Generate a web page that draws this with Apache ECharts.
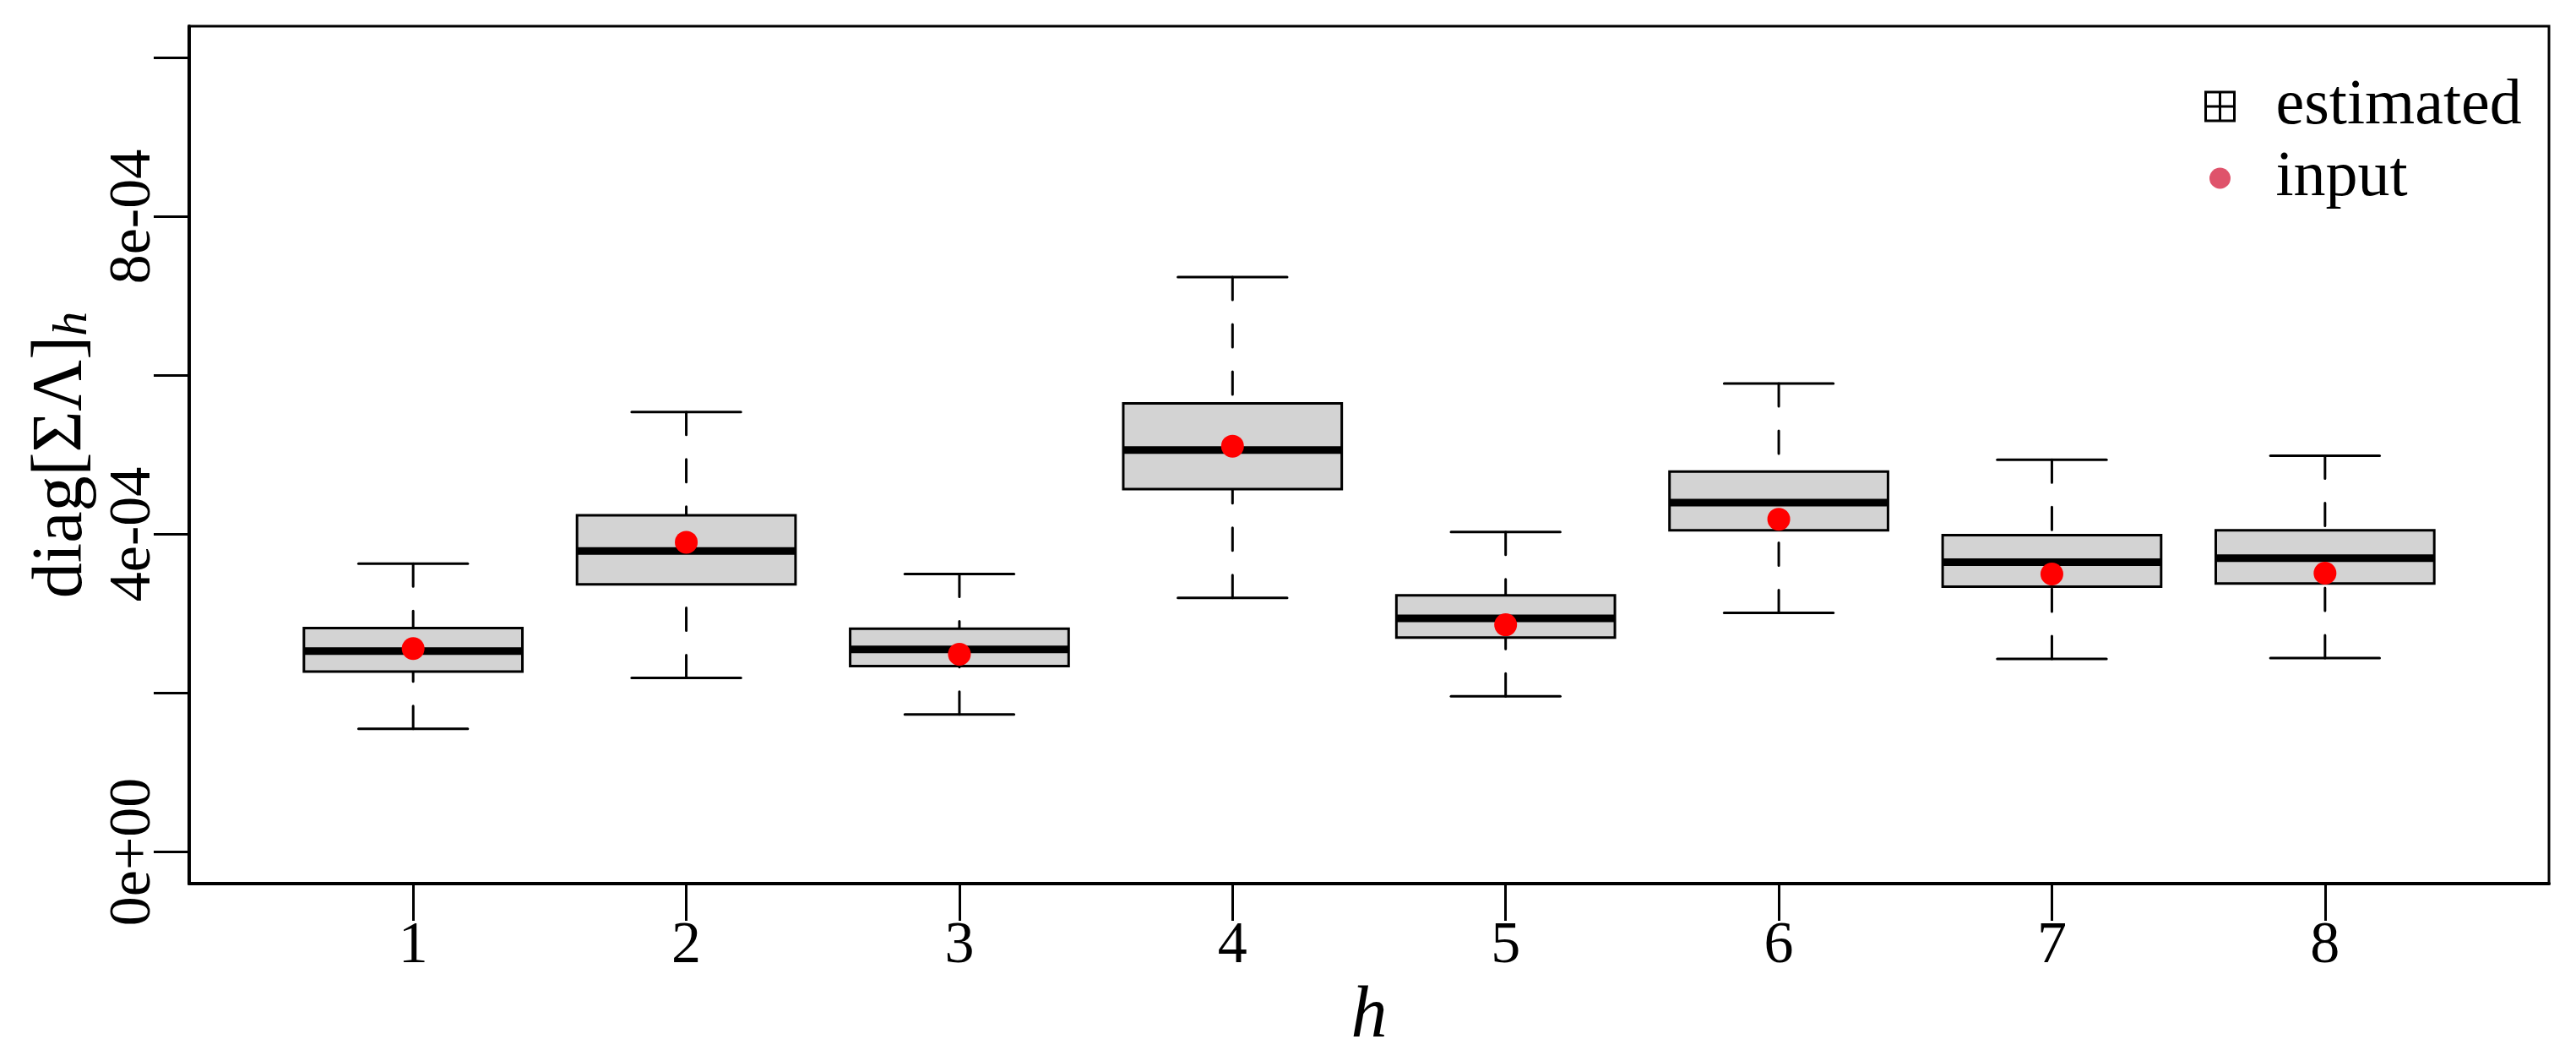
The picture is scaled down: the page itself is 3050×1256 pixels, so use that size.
<!DOCTYPE html>
<html>
<head>
<meta charset="utf-8">
<script src="https://cdn.jsdelivr.net/npm/echarts@6/dist/echarts.min.js"></script>
<style>
    html, body { margin: 0; padding: 0; background: #fff; }
    #chart { width: 3050px; height: 1256px; }
</style>
</head>
<body>
<div id="chart"></div>
<script>
    // values
    const horizons = [1, 2, 3, 4, 5, 6, 7, 8];
    const whiskerLow  = [1.55e-4, 2.19e-4, 1.73e-4, 3.20e-4, 1.96e-4, 3.01e-4, 2.43e-4, 2.44e-4];
    const quartile1   = [2.27e-4, 3.37e-4, 2.34e-4, 4.57e-4, 2.70e-4, 4.05e-4, 3.34e-4, 3.38e-4];
    const medians     = [2.53e-4, 3.79e-4, 2.55e-4, 5.06e-4, 2.94e-4, 4.40e-4, 3.65e-4, 3.70e-4];
    const quartile3   = [2.82e-4, 4.24e-4, 2.81e-4, 5.65e-4, 3.23e-4, 4.79e-4, 3.99e-4, 4.05e-4];
    const whiskerHigh = [3.63e-4, 5.54e-4, 3.50e-4, 7.24e-4, 4.03e-4, 5.90e-4, 4.94e-4, 4.99e-4];
    const inputValues = [2.56e-4, 3.90e-4, 2.49e-4, 5.11e-4, 2.86e-4, 4.19e-4, 3.50e-4, 3.51e-4];

    const yTickValues = [0, 2e-4, 4e-4, 6e-4, 8e-4, 1e-3];
    const yLabelValues = [0, 4e-4, 8e-4];
    const yLabelTexts = ['0e+00', '4e-04', '8e-04'];

    const font = 'Liberation Serif';
    const boxWidth = 0.8;     // R boxwex
    const capWidth = 0.4;     // staplewex * boxwex

    let boxData = horizons.map((h, i) => [h, whiskerLow[i], quartile1[i], medians[i], quartile3[i], whiskerHigh[i]]);
    let inputData = horizons.map((h, i) => [h, inputValues[i]]);

    function renderBox(params, api) {
        let x = api.value(0);
        let pLow = api.coord([x, api.value(1)]);
        let pQ1 = api.coord([x, api.value(2)]);
        let pMed = api.coord([x, api.value(3)]);
        let pQ3 = api.coord([x, api.value(4)]);
        let pHigh = api.coord([x, api.value(5)]);
        let halfBox = api.size([boxWidth, 0])[0] / 2;
        let halfCap = api.size([capWidth, 0])[0] / 2;
        let cx = pMed[0];
        let solid = { stroke: '#000', lineWidth: 3, lineCap: 'round' };
        let dashed = { stroke: '#000', lineWidth: 3, lineCap: 'round', lineDash: [27, 29] };
        return {
            type: 'group',
            children: [
                { type: 'line', shape: { x1: cx, y1: pHigh[1], x2: cx, y2: pQ3[1] }, style: dashed },
                { type: 'line', shape: { x1: cx, y1: pLow[1], x2: cx, y2: pQ1[1] }, style: dashed },
                { type: 'line', shape: { x1: cx - halfCap, y1: pHigh[1], x2: cx + halfCap, y2: pHigh[1] }, style: solid },
                { type: 'line', shape: { x1: cx - halfCap, y1: pLow[1], x2: cx + halfCap, y2: pLow[1] }, style: solid },
                {
                    type: 'rect',
                    shape: { x: cx - halfBox, y: pQ3[1], width: halfBox * 2, height: pQ1[1] - pQ3[1] },
                    style: { fill: '#D3D3D3', stroke: '#000', lineWidth: 3 }
                },
                { type: 'line', shape: { x1: cx - halfBox, y1: pMed[1], x2: cx + halfBox, y2: pMed[1] }, style: { stroke: '#000', lineWidth: 9 } }
            ]
        };
    }

    let chart = echarts.init(document.getElementById('chart'));
    let option = {
        animation: false,
        backgroundColor: '#fff',
        grid: {
            left: 224, right: 32, top: 31, bottom: 210,
            show: true, borderColor: '#000', borderWidth: 3, backgroundColor: 'transparent'
        },
        legend: {
            orient: 'vertical',
            left: 2605,
            top: 83,
            itemWidth: 78,
            itemHeight: 34,
            itemGap: 9,
            selectedMode: false,
            textStyle: { fontSize: 76, fontFamily: font, color: '#000' },
            data: [
                {
                    name: 'estimated',
                    icon: 'path://M0,0H34V34H0Z M17,0V34 M0,17H34 M78,34',
                    itemStyle: { color: 'rgba(0,0,0,0)', borderColor: '#000', borderWidth: 3, opacity: 1 }
                },
                {
                    name: 'input',
                    icon: 'path://M0,0 M78,34 M4.5,17A12.5,12.5,0,1,1,29.5,17A12.5,12.5,0,1,1,4.5,17Z',
                    itemStyle: { color: '#DF536B', borderWidth: 0, opacity: 1 }
                }
            ]
        },
        xAxis: {
            type: 'value',
            min: 0.18,
            max: 8.82,
            name: 'h',
            nameLocation: 'middle',
            nameGap: 112,
            nameTextStyle: { fontSize: 86, fontStyle: 'italic', fontFamily: font, color: '#000' },
            axisLine: { show: true, onZero: false, lineStyle: { color: '#000', width: 4 } },
            axisTick: { show: true, customValues: horizons, length: 44, lineStyle: { color: '#000', width: 3 } },
            axisLabel: { customValues: horizons, margin: 40, fontSize: 70, fontFamily: font, color: '#000' },
            splitLine: { show: false }
        },
        yAxis: {
            type: 'value',
            min: -4e-5,
            max: 1.04e-3,
            name: '{m|diag[ΣΛ]}{s|h}',
            nameLocation: 'middle',
            nameRotate: 90,
            nameGap: 105,
            nameTextStyle: {
                fontFamily: font, color: '#000', fontSize: 84,
                rich: {
                    m: { fontSize: 84, fontFamily: font, color: '#000', verticalAlign: 'top', lineHeight: 84 },
                    s: { fontSize: 58, fontFamily: font, color: '#000', fontStyle: 'italic', verticalAlign: 'bottom', lineHeight: 58, padding: [35, 0, 0, 0] }
                }
            },
            axisLine: { show: true, onZero: false, lineStyle: { color: '#000', width: 4 } },
            axisTick: { show: true, customValues: yTickValues, length: 42, lineStyle: { color: '#000', width: 3 } },
            axisLabel: {
                customValues: yLabelValues,
                rotate: 90,
                margin: 30,
                fontSize: 70,
                fontFamily: font,
                color: '#000',
                formatter: function (v) {
                    let i = yLabelValues.findIndex(t => Math.abs(t - v) < 1e-9);
                    return i >= 0 ? yLabelTexts[i] : '';
                }
            },
            splitLine: { show: false }
        },
        series: [
            {
                name: 'estimated',
                type: 'custom',
                renderItem: renderBox,
                data: boxData,
                itemStyle: { color: '#D3D3D3' },
                encode: { x: 0, y: [1, 2, 3, 4, 5] },
                z: 2
            },
            {
                name: 'input',
                type: 'scatter',
                data: inputData,
                symbol: 'circle',
                symbolSize: 27,
                itemStyle: { color: '#FF0000', opacity: 1 },
                z: 3
            }
        ]
    };
    chart.setOption(option);
</script>
</body>
</html>
